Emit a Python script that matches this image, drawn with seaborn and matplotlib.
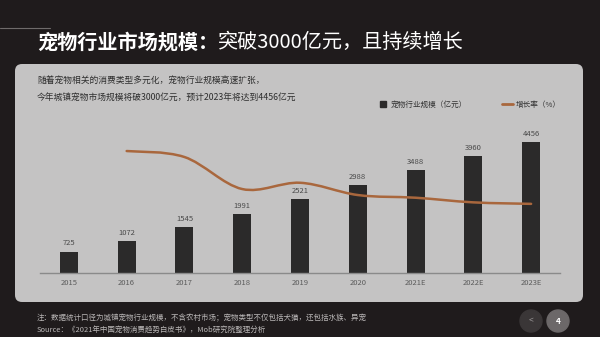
import numpy as np
import pandas as pd
import matplotlib
matplotlib.use("Agg")
import matplotlib.pyplot as plt
import seaborn as sns
from matplotlib.path import Path
from matplotlib.patches import PathPatch, FancyBboxPatch, Ellipse
from matplotlib.lines import Line2D
from matplotlib.text import Annotation
from matplotlib.transforms import IdentityTransform

# ---------------- data ----------------
years = ["2015", "2016", "2017", "2018", "2019", "2020", "2021E", "2022E", "2023E"]
market_size = [725, 1072, 1545, 1991, 2521, 2988, 3488, 3960, 4456]
growth_years = ["2016", "2017", "2018", "2019", "2020", "2021E", "2022E", "2023E"]
growth_rate = [47.9, 43.9, 22.5, 26.7, 18.5, 16.7, 13.6, 12.6]

title_bold = "宠物行业市场规模："
title_rest = "突破3000亿元，且持续增长"
subtitle_lines = ["随着宠物相关的消费类型多元化，宠物行业规模高速扩张，",
                  "今年城镇宠物市场规模将破3000亿元，预计2023年将达到4456亿元"]
note_lines = ["注：数据统计口径为城镇宠物行业规模，不含农村市场；宠物类型不仅包括犬猫，还包括水族、异宠",
              "Source：《2021年中国宠物消费趋势白皮书》，Mob研究院整理分析"]
legend_labels = ["宠物行业规模（亿元）", "增长率（%）"]
page_number = "4"

# ---------------- style ----------------
sns.set_theme(style="white")
plt.rcParams["font.family"] = ["Noto Sans CJK SC", "DejaVu Sans"]

BG = "#1f1b1c"
PANEL = "#c4c3c3"
BAR = "#2b2a2a"
LINE = "#a9673d"

W, H = 600, 337
fig = plt.figure(figsize=(W / 100, H / 100), dpi=100)
fig.patch.set_facecolor(BG)

# panel
panel = FancyBboxPatch((15, H - 302), 568, 238,
                       boxstyle="round,pad=0,rounding_size=7",
                       transform=IdentityTransform(), facecolor=PANEL,
                       edgecolor="none", zorder=-5)
fig.patches.append(panel)

# top-left thin line
fig.add_artist(Line2D([0, 50 / W], [1 - 27.5 / H] * 2, color="#6f6b6b", lw=0.8))

# title
t1 = fig.text(37 / W, 1 - 42 / H, title_bold, color="white", fontsize=14.5,
              fontweight="bold", va="center", ha="left")
ann = Annotation(title_rest, xy=(1, 0), xycoords=t1, va="bottom", ha="left",
                 color="white", fontsize=14.5, annotation_clip=False)
fig.add_artist(ann)

# subtitle
for i, s in enumerate(subtitle_lines):
    fig.text(37 / W, 1 - (80 + 17.5 * i) / H, s, color="#2e2e2e", fontsize=6.3,
             va="center", ha="left")

# notes
for i, s in enumerate(note_lines):
    fig.text(37 / W, 1 - (318 + 12 * i) / H, s, color="#b9b6b6", fontsize=5.4,
             va="center", ha="left")

# page buttons
fig.add_artist(Ellipse((531 / W, 1 - 321 / H), 22 / W, 22 / H, color="#3a3637"))
fig.add_artist(Ellipse((558 / W, 1 - 321 / H), 22 / W, 22 / H, color="#6c6869"))
fig.text(531 / W, 1 - 321 / H, "<", color="#9a9697", fontsize=6, ha="center", va="center")
fig.text(558 / W, 1 - 321 / H, page_number, color="white", fontsize=6,
         ha="center", va="center", fontweight="bold")

# ---------------- chart ----------------
ax = fig.add_axes([40 / W, (H - 273) / H, 520 / W, 173 / H])
ax.set_facecolor("none")
df = pd.DataFrame({"year": years, "size": market_size})
sns.barplot(data=df, x="year", y="size", color=BAR, width=0.31, ax=ax,
            saturation=1, order=years, edgecolor="none", linewidth=0)
ax.set_xlim(-0.5, len(years) - 0.5)
ax.set_ylim(0, 5871)
ax.bar_label(ax.containers[0], padding=3, fontsize=5.5, color="#4a4a4a")
ax.set_xlabel("")
ax.set_ylabel("")
ax.set_yticks([])
ax.tick_params(axis="x", length=0, labelsize=5.5, labelcolor="#5c5c5c", pad=4)
for sp in ["top", "right", "left"]:
    ax.spines[sp].set_visible(False)
ax.spines["bottom"].set_color("#8a8a8a")
ax.spines["bottom"].set_linewidth(1.0)

ax2 = ax.twinx()
ax2.set_ylim(-33.6, 82.0)
ax2.set_yticks([])
for sp in ax2.spines.values():
    sp.set_visible(False)

# smooth growth line (cubic Bezier through data points)
xs = np.array([years.index(y) for y in growth_years], dtype=float)
ys = np.array(growth_rate, dtype=float)
pts = np.column_stack([xs, ys])
n = len(pts)
tang = np.zeros_like(pts)
for i in range(n):
    if i == 0:
        tang[i] = (pts[1] - pts[0]) * 0.5
    elif i == n - 1:
        tang[i] = (pts[-1] - pts[-2]) * 0.5
    else:
        tang[i] = (pts[i + 1] - pts[i - 1]) / 2
verts = [tuple(pts[0])]
codes = [Path.MOVETO]
for i in range(n - 1):
    c1 = pts[i] + tang[i] / 3
    c2 = pts[i + 1] - tang[i + 1] / 3
    verts += [tuple(c1), tuple(c2), tuple(pts[i + 1])]
    codes += [Path.CURVE4] * 3
ax2.add_patch(PathPatch(Path(verts, codes), facecolor="none", edgecolor=LINE,
                        lw=1.8, capstyle="round"))

# legend
handles = [Line2D([], [], marker="s", color=BAR, linestyle="none", markersize=5),
           Line2D([], [], color=LINE, lw=2)]
fig.legend(handles, legend_labels, loc="center left",
           bbox_to_anchor=(378 / W, 1 - 105 / H), ncol=2, frameon=False,
           fontsize=5.5, labelcolor="#333333", handlelength=1.4,
           handletextpad=0.3, columnspacing=4.6, borderaxespad=0, borderpad=0)

fig.savefig("out.png", dpi=100, facecolor=BG)
